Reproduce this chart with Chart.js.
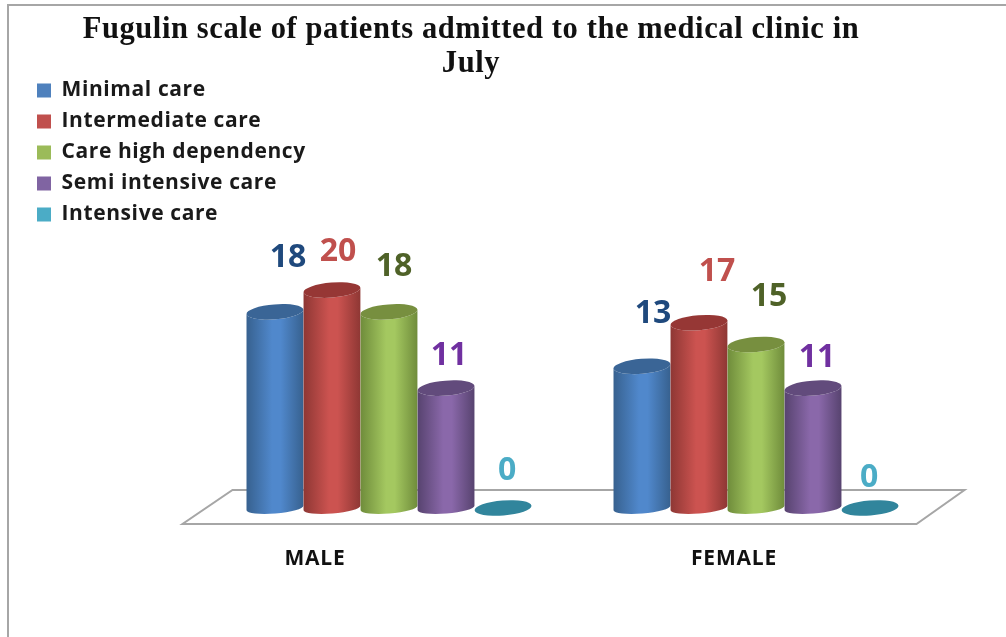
<!DOCTYPE html>
<html>
<head>
<meta charset="utf-8">
<title>Fugulin scale</title>
<script src="https://cdn.jsdelivr.net/npm/chart.js@4"></script>
<style>
  html, body { margin: 0; padding: 0; background: #fff; overflow: hidden; }
  #wrap { position: relative; width: 1006px; height: 637px; overflow: hidden; }
  #frame { position: absolute; left: 7px; top: 4px; right: -4px; bottom: -4px; border: 2px solid #a6a6a6; }
  canvas { position: absolute; left: 0; top: 0; }
</style>
</head>
<body>
<div id="wrap">
  <div id="frame"></div>
  <canvas id="fugulinChart" width="1006" height="637"></canvas>
</div>
<script>
// Data
const categories = ['MALE', 'FEMALE'];
const seriesNames = ['Minimal care', 'Intermediate care', 'Care high dependency', 'Semi intensive care', 'Intensive care'];
const minimalCare = [18, 13];
const intermediateCare = [20, 17];
const careHighDependency = [18, 15];
const semiIntensiveCare = [11, 11];
const intensiveCare = [0, 0];

// Cylinder colours per series
const swatchColors = ['#4f81bd', '#c0504d', '#9bbb59', '#8064a2', '#4bacc6'];
const edgeColors = ['#37618f', '#8e3734', '#6f8c3b', '#57436f', '#31859c'];
const midColors = ['#5088cc', '#cc5350', '#a4c860', '#8a68aa', '#4bacc6'];
const capColors = ['#3a6596', '#963735', '#778f3f', '#624b7c', '#31859c'];
const labelColors = ['#1f497d', '#c0504d', '#4f6228', '#7030a0', '#4bacc6'];

// Where the value labels sit relative to the top of their cylinder, [dx, dy]
const labelNudges = [
  [[13, -56], [11, -54]],
  [[6, -40], [18, -53]],
  [[5, -47], [13, -50]],
  [[3, -34], [4, -32]],
  [[4, -39], [-1, -32]]
];
// The axis names sit left of the group centres in the original
const categoryNudges = [-74, -22];

const UI_FONT = '"Open Sans", "Noto Sans", sans-serif';

function drawCylinder(ctx, bar, i) {
  const rx = bar.width / 2;
  const ry = 7.5;
  const tilt = -0.08;
  const { x, y, base } = bar;

  if (base - y > 1) {
    const side = ctx.createLinearGradient(x - rx, 0, x + rx, 0);
    side.addColorStop(0, edgeColors[i]);
    side.addColorStop(0.45, midColors[i]);
    side.addColorStop(0.6, midColors[i]);
    side.addColorStop(1, edgeColors[i]);
    ctx.fillStyle = side;
    ctx.beginPath();
    ctx.ellipse(x, base, rx, 5.5, tilt, 0, Math.PI);
    ctx.ellipse(x, y, rx, ry, tilt, Math.PI, 0, true);
    ctx.closePath();
    ctx.fill();
  }

  ctx.fillStyle = capColors[i];
  ctx.beginPath();
  ctx.ellipse(x, y, rx, ry, tilt, 0, Math.PI * 2);
  ctx.fill();
}

// Draws the floor, cylinders and texts the bar controller can't do
const cylinderPlugin = {
  id: 'cylinders',
  afterLayout(chart) {
    // move the title and the legend off the chart area, as in the original
    chart.titleBlock.left = 0;
    chart.titleBlock.right = 942;
    chart.legend.left = 27;
    chart.legend.top = 70;
  },
  beforeDraw(chart) {
    // the original text runs wide, title and legend are drawn with this on
    chart.ctx.letterSpacing = '0.6px';
  },
  beforeDatasetsDraw(chart) {
    const { ctx, chartArea } = chart;
    const y0 = chart.scales.y.getPixelForValue(0);
    ctx.letterSpacing = '0px';
    ctx.save();
    ctx.fillStyle = '#fff';
    ctx.strokeStyle = '#a6a6a6';
    ctx.lineWidth = 2;
    ctx.beginPath();
    ctx.moveTo(chartArea.left - 23, y0 + 16);
    ctx.lineTo(chartArea.right - 23, y0 + 16);
    ctx.lineTo(chartArea.right + 25, y0 - 18);
    ctx.lineTo(chartArea.left + 27, y0 - 18);
    ctx.closePath();
    ctx.fill();
    ctx.stroke();
    ctx.restore();
  },
  beforeDatasetDraw() {
    return false; // native rectangles replaced by cylinders
  },
  afterDatasetsDraw(chart) {
    const { ctx } = chart;
    ctx.save();
    chart.data.datasets.forEach((ds, i) => {
      chart.getDatasetMeta(i).data.forEach(bar => drawCylinder(ctx, bar, i));
    });

    ctx.textAlign = 'center';
    ctx.textBaseline = 'middle';
    ctx.font = 'bold 32px ' + UI_FONT;
    chart.data.datasets.forEach((ds, i) => {
      chart.getDatasetMeta(i).data.forEach((bar, j) => {
        ctx.fillStyle = labelColors[i];
        ctx.fillText(String(ds.data[j]), bar.x + labelNudges[i][j][0], bar.y + labelNudges[i][j][1] + 2);
      });
    });

    ctx.font = 'bold 21px ' + UI_FONT;
    ctx.letterSpacing = '0.8px';
    ctx.fillStyle = '#111';
    categories.forEach((name, j) => {
      ctx.fillText(name, chart.scales.x.getPixelForTick(j) + categoryNudges[j], 559);
    });
    ctx.restore();
  }
};

const allSeries = [minimalCare, intermediateCare, careHighDependency, semiIntensiveCare, intensiveCare];

new Chart(document.getElementById('fugulinChart'), {
  type: 'bar',
  plugins: [cylinderPlugin],
  data: {
    labels: categories,
    datasets: allSeries.map((values, i) => ({
      label: seriesNames[i],
      data: values,
      backgroundColor: swatchColors[i],
      borderWidth: 0
    }))
  },
  options: {
    responsive: false,
    animation: false,
    barPercentage: 1,
    categoryPercentage: 0.777,
    layout: { padding: { left: 205.5, right: 66.5, top: 0, bottom: 129 } },
    plugins: {
      title: {
        display: true,
        text: ['Fugulin scale of patients admitted to the medical clinic in', 'July'],
        color: '#111',
        font: { family: '"Liberation Serif", serif', size: 30.5, weight: 'bold', lineHeight: 1.115 },
        padding: { top: 13, bottom: 2 }
      },
      legend: {
        position: 'chartArea',
        align: 'start',
        labels: {
          boxWidth: 14,
          boxHeight: 14,
          padding: 10,
          color: '#1a1a1a',
          font: { family: UI_FONT, size: 21, weight: 'bold' }
        }
      },
      tooltip: { enabled: false }
    },
    scales: {
      x: { display: false },
      y: { display: false, min: 0, max: 39 }
    }
  }
});
</script>
</body>
</html>
